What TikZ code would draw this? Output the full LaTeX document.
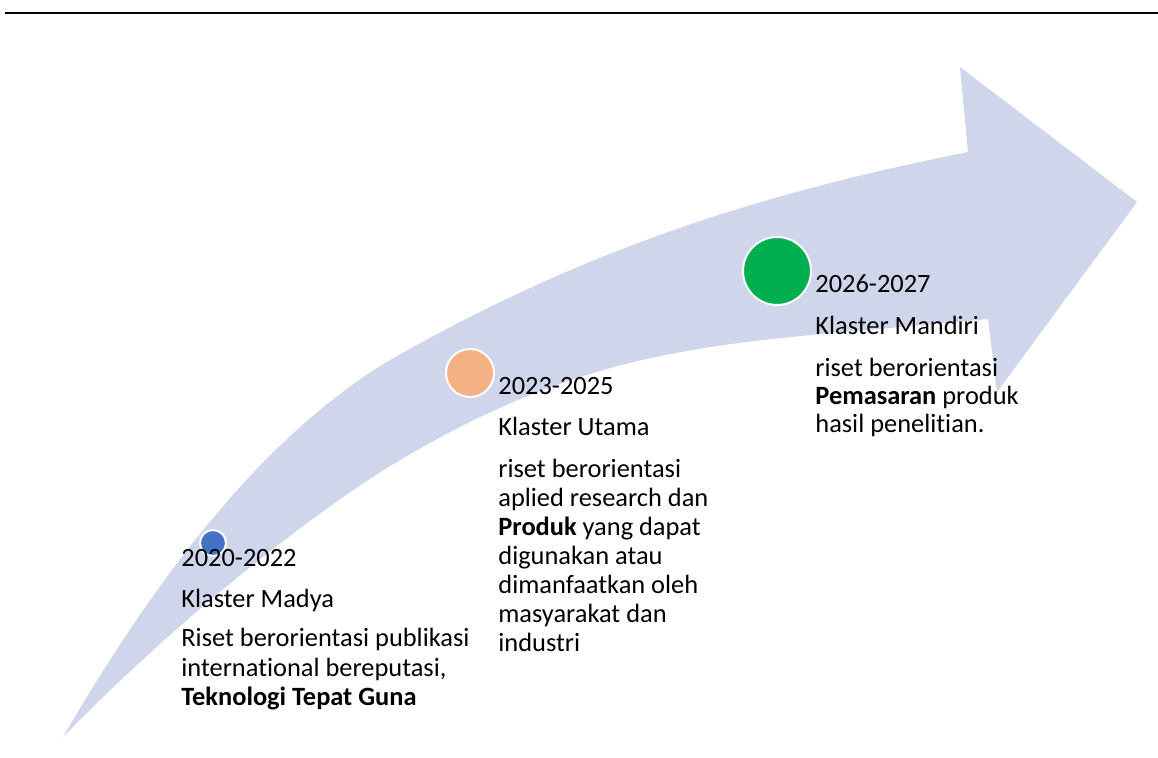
\documentclass[tikz,border=0pt]{standalone}
\usepackage{fontspec}
\setmainfont{Carlito}[Ligatures=NoCommon]
\definecolor{arrowcol}{HTML}{CFD5EA}
\definecolor{dotblue}{HTML}{4472C4}
\definecolor{dotorange}{HTML}{F4B183}
\definecolor{dotgreen}{HTML}{00B050}
\tikzset{
  arrowfill/.style={fill=arrowcol},
  dot/.style={circle, draw=white, line width=1pt, inner sep=0pt},
  txt/.style={anchor=base west, inner sep=0pt, font=\fontsize{13.2}{15}\selectfont},
}
\begin{document}
\begin{tikzpicture}[x=0.5pt,y=-0.5pt]
\useasboundingbox (0,0) rectangle (1158,758);
% top rule
\draw[line width=1pt] (5,13) -- (1158,13);
% big curved arrow
\fill[arrowfill] (63,737) .. controls (163,565) and (270,432) .. (390,360)
  .. controls (590,246) and (768,192) .. (968,152)
  -- (960,67) -- (1137,202) -- (997,392) -- (988,319)
  .. controls (738,344) and (610,336) .. (400,460)
  .. controls (300,520) and (163,634) .. (63,737)
  -- cycle;
% dots
\node[dot, fill=dotblue, minimum size=13pt] (d1) at (213,543) {};
\node[dot, fill=dotorange, minimum size=24pt] (d2) at (470,373) {};
\node[dot, fill=dotgreen, minimum size=34pt] (d3) at (777,271) {};
% block 1
\node[txt] (a1) at (181,567) {2020-2022};
\node[txt] (a2) at (181,608) {Klaster Madya};
\node[txt] (a3) at (181,647) {Riset berorientasi publikasi};
\node[txt] (a4) at (181,677) {international bereputasi,};
\node[txt] (a5) at (181,706) {\textbf{Teknologi Tepat Guna}};
% block 2
\node[txt] (b1) at (498,395) {2023-2025};
\node[txt] (b2) at (498,436) {Klaster Utama};
\node[txt] (b3) at (498,478) {riset berorientasi};
\node[txt] (b4) at (498,507) {aplied research dan};
\node[txt] (b5) at (498,536) {\textbf{Produk} yang dapat};
\node[txt] (b6) at (498,565) {digunakan atau};
\node[txt] (b7) at (498,594) {dimanfaatkan oleh};
\node[txt] (b8) at (498,623) {masyarakat dan};
\node[txt] (b9) at (498,652) {industri};
% block 3
\node[txt] (c1) at (815,293) {2026-2027};
\node[txt] (c2) at (815,335) {Klaster Mandiri};
\node[txt] (c3) at (815,377) {riset berorientasi};
\node[txt] (c4) at (815,405) {\textbf{Pemasaran} produk};
\node[txt] (c5) at (815,433) {hasil penelitian.};
\end{tikzpicture}
\end{document}
